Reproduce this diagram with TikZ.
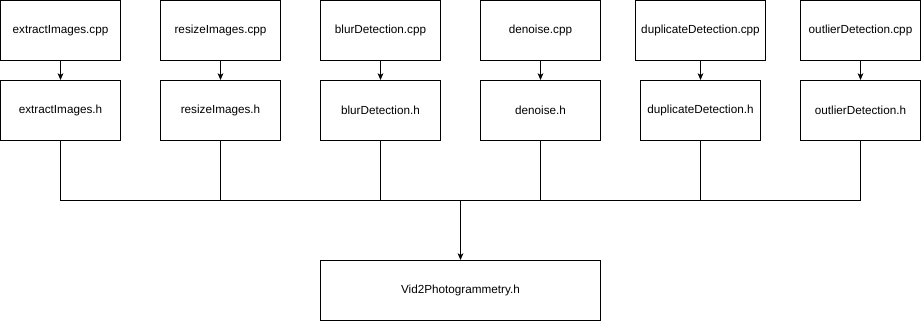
\documentclass[tikz,border=0pt]{standalone}
\usepackage{fontspec}
\setmainfont{Liberation Sans}
\usetikzlibrary{arrows.meta}
\begin{document}
\begin{tikzpicture}[x=0.03cm,y=-0.03cm,line width=0.03cm,
  file/.style={draw,minimum width=3.6cm,minimum height=1.8cm,inner sep=0pt,
    font=\fontsize{10}{12}\selectfont},
  dep/.style={-{Stealth[length=0.2cm,width=0.17cm,inset=0.05cm]}}]
\useasboundingbox (0,0) rectangle (921,322);

% one column per module: source, header, drop to the bus
\foreach \i/\name/\w in {0/extractImages/3.6,1/resizeImages/3.6,2/blurDetection/3.6,
                      3/denoise/3.6,4/duplicateDetection/3.9,5/outlierDetection/3.6}{
  \node[file,minimum width=\w cm] (cpp\i) at (60.5+160*\i,30.5) {\name.cpp};
  \node[file] (h\i) at (60.5+160*\i,110.5) {\name.h};
  \coordinate (bus\i) at (60.5+160*\i,200.5);
  \draw[dep] (cpp\i) -- (h\i);
  \draw (h\i) -- (bus\i);
}

\node[file,minimum width=8.4cm] (main) at (460.5,290.5) {Vid2Photogrammetry.h};

\coordinate (join) at (460.5,200.5);
\draw (bus0) -- (bus5);
\draw[dep] (join) -- (main);
\end{tikzpicture}
\end{document}
